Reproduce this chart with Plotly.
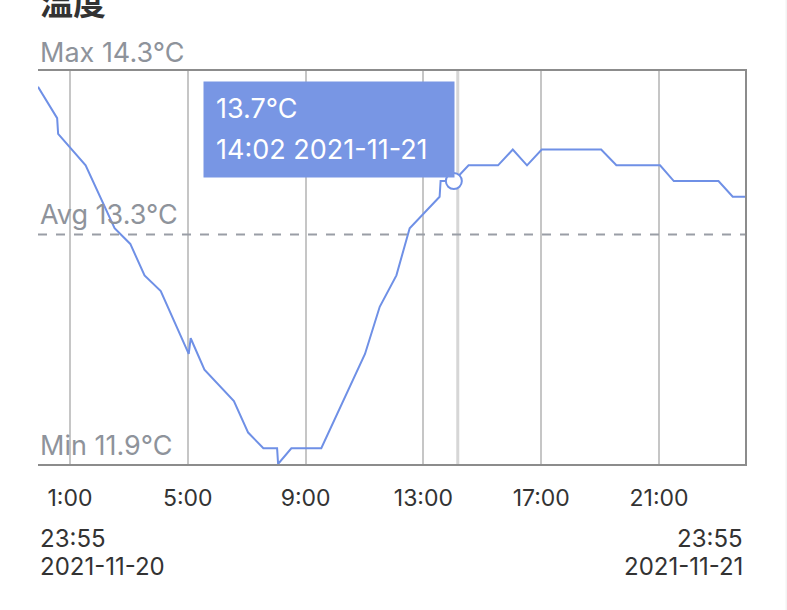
"""
Temperature line chart (温度) for one day, styled like the mobile card view.
"""

import plotly.graph_objects as go

# --- data -------------------------------------------------------------------
TIMES = [
    "2021-11-20 23:55", "2021-11-21 00:34", "2021-11-21 00:36", "2021-11-21 01:32",
    "2021-11-21 02:31", "2021-11-21 03:03", "2021-11-21 03:32", "2021-11-21 04:05",
    "2021-11-21 05:02", "2021-11-21 05:06", "2021-11-21 05:34", "2021-11-21 06:34",
    "2021-11-21 07:03", "2021-11-21 07:34", "2021-11-21 08:02", "2021-11-21 08:04",
    "2021-11-21 08:31", "2021-11-21 09:32", "2021-11-21 11:01", "2021-11-21 11:31",
    "2021-11-21 12:05", "2021-11-21 12:32", "2021-11-21 13:33", "2021-11-21 13:35",
    "2021-11-21 14:02", "2021-11-21 14:32", "2021-11-21 15:32", "2021-11-21 16:02",
    "2021-11-21 16:31", "2021-11-21 17:01", "2021-11-21 19:02", "2021-11-21 19:33",
    "2021-11-21 21:02", "2021-11-21 21:30", "2021-11-21 23:01", "2021-11-21 23:30",
    "2021-11-21 23:55",
]
TEMPS = [
    14.3, 14.1, 14.0, 13.8,
    13.4, 13.3, 13.1, 13.0,
    12.6, 12.7, 12.5, 12.3,
    12.1, 12.0, 12.0, 11.9,
    12.0, 12.0, 12.6, 12.9,
    13.1, 13.4, 13.6, 13.7,
    13.7, 13.8, 13.8, 13.9,
    13.8, 13.9, 13.9, 13.8,
    13.8, 13.7, 13.7, 13.6,
    13.6,
]

TICK_VALS = ["2021-11-21 01:00", "2021-11-21 05:00", "2021-11-21 09:00",
             "2021-11-21 13:00", "2021-11-21 17:00", "2021-11-21 21:00"]
TICK_TEXT = ["1:00", "5:00", "9:00", "13:00", "17:00", "21:00"]

X_RANGE = ["2021-11-20 23:55", "2021-11-21 23:55"]
Y_RANGE = [11.9, 14.4]

MAX_LABEL = "Max 14.3°C"
AVG_LABEL = "Avg 13.3°C"
MIN_LABEL = "Min 11.9°C"
AVG_VALUE = 13.36

HOVER_TIME = "2021-11-21 14:02"
HOVER_TEMP = 13.7
HOVER_LINES = ["13.7°C", "14:02 2021-11-21"]
CURSOR_TIME = "2021-11-21 14:10"

START_LABEL = ["23:55", "2021-11-20"]
END_LABEL = ["23:55", "2021-11-21"]
TITLE = "温度"

# --- style ------------------------------------------------------------------
FONT = "Inter, Roboto, sans-serif"
LINE_BLUE = "#6f90e6"
TIP_BLUE = "#7896e4"
LABEL_GRAY = "#8e939b"
TEXT_DARK = "#333333"
GRID = "#c6c6c6"
FRAME = "#8c8c8c"

fig = go.Figure()

fig.add_trace(go.Scatter(
    x=TIMES, y=TEMPS, mode="lines",
    line=dict(color=LINE_BLUE, width=2),
    hoverinfo="skip", showlegend=False,
))
fig.add_trace(go.Scatter(
    x=[HOVER_TIME], y=[HOVER_TEMP], mode="markers",
    marker=dict(size=16, color="white", line=dict(color=LINE_BLUE, width=2)),
    hoverinfo="skip", showlegend=False,
))

shapes = [
    # hover cursor
    dict(type="line", xref="x", yref="paper", x0=CURSOR_TIME, x1=CURSOR_TIME, y0=0, y1=1,
         line=dict(color="#d6d6d6", width=3), layer="below"),
    # average line
    dict(type="line", xref="paper", yref="y", x0=0, x1=1, y0=AVG_VALUE, y1=AVG_VALUE,
         line=dict(color="#9a9ea6", width=2, dash="dash")),
    # faint strip at the right page edge
    dict(type="rect", xref="paper", yref="paper", x0=1.0573, x1=1.1, y0=-0.5, y1=1.3,
         fillcolor="#f3f3f3", line=dict(width=0)),
]


def _label(text, x, y, xanchor, yshift, size, color, xref="paper", yref="paper", **kw):
    return dict(text=text, xref=xref, yref=yref, x=x, y=y, xanchor=xanchor,
                yanchor="middle", yshift=yshift, showarrow=False,
                font=dict(family=kw.pop("family", FONT), size=size, color=color), **kw)


annotations = [
    _label(f"<b>{TITLE}</b>", 0, 1, "left", 70, 33, TEXT_DARK, family="Noto Sans CJK SC"),
    _label(MAX_LABEL, 0, 1, "left", 19, 27, LABEL_GRAY),
    _label(AVG_LABEL, 0, AVG_VALUE, "left", 20, 27, LABEL_GRAY, yref="y"),
    _label(MIN_LABEL, 0, 0, "left", 19, 27, LABEL_GRAY),
    # tooltip box and its two lines
    dict(text=" ", x=HOVER_TIME, y=HOVER_TEMP, xanchor="right", yanchor="bottom",
         xshift=1, yshift=3, width=250, height=95, bgcolor=TIP_BLUE, borderpad=0,
         showarrow=False, font=dict(size=10)),
    _label(HOVER_LINES[0], HOVER_TIME, HOVER_TEMP, "left", 73, 27, "white",
           xref="x", yref="y", xshift=-240),
    _label(HOVER_LINES[1], HOVER_TIME, HOVER_TEMP, "left", 32, 27, "white",
           xref="x", yref="y", xshift=-240),
    # range labels under the axis
    _label(START_LABEL[0], 0, 0, "left", -74, 24, TEXT_DARK),
    _label(START_LABEL[1], 0, 0, "left", -102, 24, TEXT_DARK),
    _label(END_LABEL[0], 1, 0, "right", -74, 24, TEXT_DARK),
    _label(END_LABEL[1], 1, 0, "right", -102, 24, TEXT_DARK),
]

fig.update_layout(
    width=787, height=610,
    margin=dict(l=38, r=42, t=71, b=146),
    paper_bgcolor="white", plot_bgcolor="white",
    font=dict(family=FONT, color=TEXT_DARK),
    showlegend=False,
    xaxis=dict(
        type="date", range=X_RANGE, tickmode="array",
        tickvals=TICK_VALS, ticktext=TICK_TEXT,
        tickfont=dict(family=FONT, size=23, color=TEXT_DARK),
        showgrid=True, gridcolor=GRID, gridwidth=2,
        showline=True, linecolor=FRAME, linewidth=1.5, mirror=True,
        ticks="", ticklabelstandoff=13, zeroline=False, fixedrange=True,
    ),
    yaxis=dict(
        range=Y_RANGE, showgrid=False, zeroline=False, showticklabels=False,
        side="right", showline=True, linecolor=FRAME, linewidth=1.5, ticks="",
        fixedrange=True,
    ),
    shapes=shapes,
    annotations=annotations,
)

# browsers add an 8px body margin; drop it so the figure sits at the page corner
fig.write_html("out.html", config={"displayModeBar": False},
               post_script="document.body.style.margin='0';"
                           "document.body.style.overflow='hidden';")
